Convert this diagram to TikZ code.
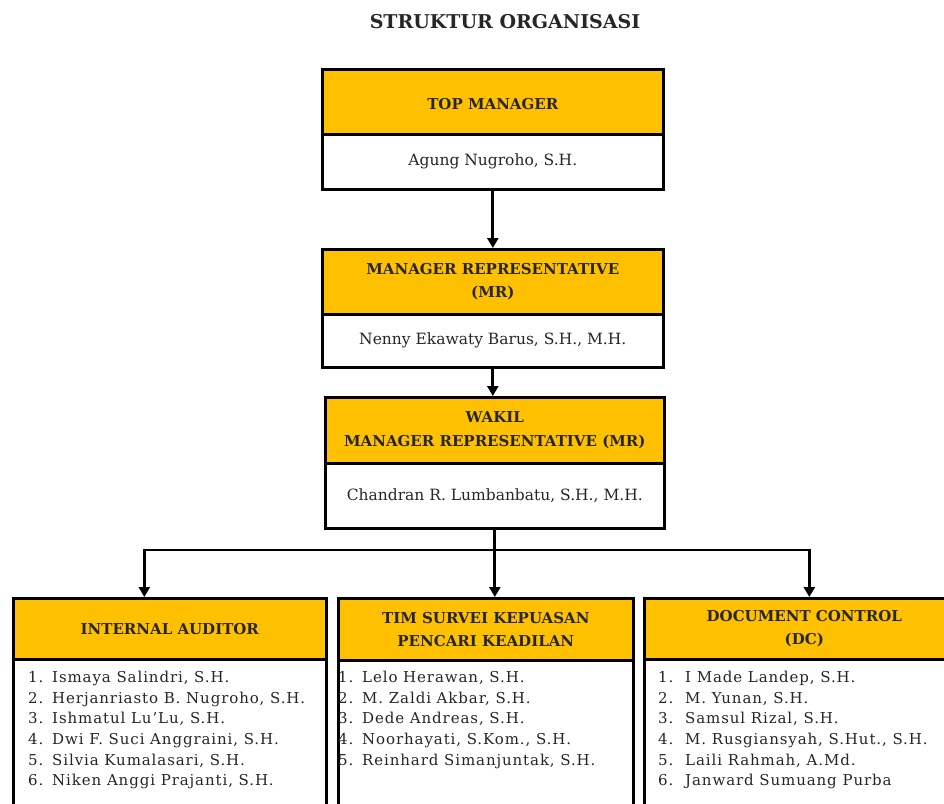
\documentclass[tikz,border=0pt]{standalone}
\usepackage{fontspec}
\setmainfont{DejaVu Serif}
\usetikzlibrary{arrows.meta}
\definecolor{gold}{HTML}{FFC000}
\definecolor{ink}{HTML}{262626}
\begin{document}
\begin{tikzpicture}[x=1pt,y=-1pt,
  hdr/.style={draw=black, line width=2.6pt, fill=gold, text=ink,
    font=\bfseries\fontsize{15}{23.5}\selectfont, align=center,
    inner sep=0pt, anchor=north west},
  body/.style={draw=black, line width=2.6pt, fill=white, text=ink,
    font=\fontsize{15.5}{18}\selectfont, inner sep=0pt, anchor=north west},
  lst/.style={text=ink, font=\fontsize{15}{20.6}\selectfont\addfontfeatures{LetterSpace=6}, align=left,
    inner sep=0pt, anchor=north west},
  conn/.style={line width=2.7pt, line join=miter},
  arr/.style={conn, -{Triangle[length=10pt,width=11pt]}}]
\useasboundingbox (0,0) rectangle (944,803);
\clip (0,0) rectangle (944,803);
\fill[white] (0,0) rectangle (944,803);

\node[text=ink, font=\bfseries\fontsize{19}{21}\selectfont] (title) at (505,22) {STRUKTUR ORGANISASI};

% top manager
\node[body, minimum width=341pt, minimum height=55pt] (tmb) at (321,133) {Agung Nugroho, S.H.};
\node[hdr, minimum width=341pt, minimum height=65pt, text height=19pt, text depth=3pt] (tmh) at (321,68) {TOP MANAGER};

% manager representative
\node[body, minimum width=341pt, minimum height=53pt] (mrb) at (321,313) {Nenny Ekawaty Barus, S.H., M.H.};
\node[hdr, minimum width=341pt, minimum height=65pt] (mrh) at (321,248) {MANAGER REPRESENTATIVE\\(MR)};

% wakil
\node[body, minimum width=339pt, minimum height=65pt] (wkb) at (324,462) {Chandran R. Lumbanbatu, S.H., M.H.};
\node[hdr, minimum width=339pt, minimum height=66pt] (wkh) at (324,396) {WAKIL\\MANAGER REPRESENTATIVE (MR)};

% bottom boxes
\node[body, minimum width=313pt, minimum height=200pt] (iab) at (12,658) {};
\node[hdr, minimum width=313pt, minimum height=61pt] (iah) at (12,597) {INTERNAL AUDITOR};
\node[body, minimum width=295pt, minimum height=200pt] (tsb) at (337,659) {};
\node[hdr, minimum width=295pt, minimum height=62pt] (tsh) at (337,597) {TIM SURVEI KEPUASAN\\PENCARI KEADILAN};
\node[body, minimum width=320pt, minimum height=200pt] (dcb) at (643,658) {};
\node[hdr, minimum width=320pt, minimum height=61pt] (dch) at (643,597) {DOCUMENT CONTROL\\(DC)};

% lists
\node[lst] (ial) at (28,671) {%
\makebox[24pt][l]{1.}Ismaya Salindri, S.H.\\
\makebox[24pt][l]{2.}Herjanriasto B. Nugroho, S.H.\\
\makebox[24pt][l]{3.}Ishmatul Lu'Lu, S.H.\\
\makebox[24pt][l]{4.}Dwi F. Suci Anggraini, S.H.\\
\makebox[24pt][l]{5.}Silvia Kumalasari, S.H.\\
\makebox[24pt][l]{6.}Niken Anggi Prajanti, S.H.};
\node[lst] (tsl) at (338,671) {%
\makebox[24pt][l]{1.}Lelo Herawan, S.H.\\
\makebox[24pt][l]{2.}M. Zaldi Akbar, S.H.\\
\makebox[24pt][l]{3.}Dede Andreas, S.H.\\
\makebox[24pt][l]{4.}Noorhayati, S.Kom., S.H.\\
\makebox[24pt][l]{5.}Reinhard Simanjuntak, S.H.};
\node[lst] (dcl) at (658,671) {%
\makebox[27pt][l]{1.}I Made Landep, S.H.\\
\makebox[27pt][l]{2.}M. Yunan, S.H.\\
\makebox[27pt][l]{3.}Samsul Rizal, S.H.\\
\makebox[27pt][l]{4.}M. Rusgiansyah, S.Hut., S.H.\\
\makebox[27pt][l]{5.}Laili Rahmah, A.Md.\\
\makebox[27pt][l]{6.}Janward Sumuang Purba};

% connectors
\coordinate (hub) at (493.5,550);
\draw[arr] (tmb.south) -- (mrh.north);
\draw[arr] (mrb.south) -- (mrb.south |- wkh.north);
\draw[arr] (wkb.south) -- (wkb.south |- tsh.north);
\draw[arr] (hub) -| ([xshift=-25.5pt]iah.north);
\draw[arr] (hub) -| ([xshift=5pt]dch.north);
\end{tikzpicture}
\end{document}
